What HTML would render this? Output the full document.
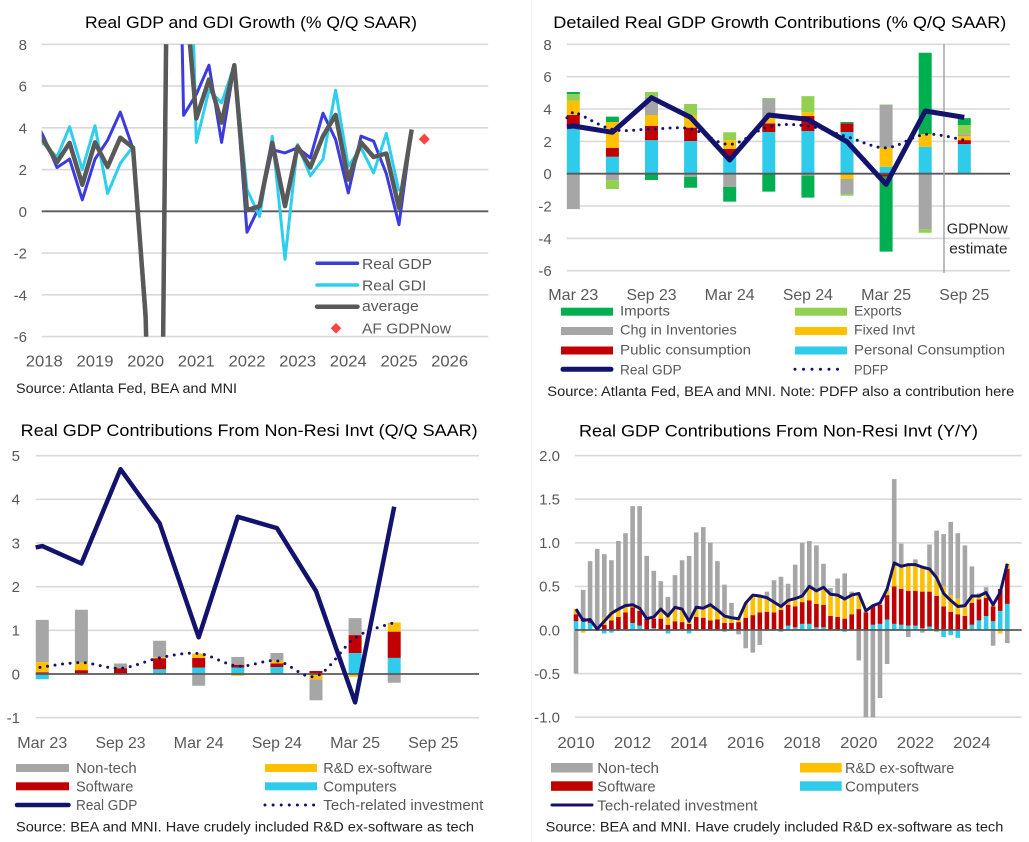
<!DOCTYPE html>
<html><head><meta charset="utf-8"><style>
html,body{margin:0;padding:0;background:#fff;}
svg{display:block;font-family:"Liberation Sans",Arial,sans-serif;}
.t{font-size:17px;fill:#000;}
.src{font-size:13.5px;fill:#222;}
.yl{font-size:15px;fill:#595959;text-anchor:end;}
.xl{font-size:16px;fill:#595959;text-anchor:middle;}
.lg{font-size:15px;fill:#595959;}
.lg2{font-size:14px;fill:#595959;}
.g{stroke:#d9d9d9;stroke-width:1.6;}
.z{stroke:#595959;stroke-width:1.8;}
</style></head><body>
<svg width="1029" height="842" viewBox="0 0 1029 842" xmlns="http://www.w3.org/2000/svg">
<rect width="1029" height="842" fill="#fff"/>
<line x1="531.5" y1="0" x2="531.5" y2="842" stroke="#f2f2f2" stroke-width="1"/>
<defs>
<clipPath id="c1"><rect x="41.7" y="44.3" width="450" height="292.3"/></clipPath>
</defs>

<!-- ============ TOP LEFT ============ -->
<text class="t" x="85" y="28" textLength="332" lengthAdjust="spacingAndGlyphs">Real GDP and GDI Growth (% Q/Q SAAR)</text>
<g>
<line class="g" x1="41.7" x2="488.3" y1="44.3" y2="44.3"/>
<line class="g" x1="41.7" x2="488.3" y1="86.05" y2="86.05"/>
<line class="g" x1="41.7" x2="488.3" y1="127.8" y2="127.8"/>
<line class="g" x1="41.7" x2="488.3" y1="169.55" y2="169.55"/>
<line class="g" x1="41.7" x2="488.3" y1="253.05" y2="253.05"/>
<line class="g" x1="41.7" x2="488.3" y1="294.8" y2="294.8"/>
<line class="g" x1="41.7" x2="488.3" y1="336.55" y2="336.55"/>
<line class="z" x1="41.7" x2="488.3" y1="211.3" y2="211.3"/>
</g>
<text class="yl" x="27" y="49.8">8</text>
<text class="yl" x="27" y="91.5">6</text>
<text class="yl" x="27" y="133.3">4</text>
<text class="yl" x="27" y="175">2</text>
<text class="yl" x="27" y="216.8">0</text>
<text class="yl" x="27" y="258.5">-2</text>
<text class="yl" x="27" y="300.3">-4</text>
<text class="yl" x="27" y="342">-6</text>
<text class="xl" x="44.3" y="366.5" textLength="37" lengthAdjust="spacingAndGlyphs">2018</text>
<text class="xl" x="95" y="366.5" textLength="37" lengthAdjust="spacingAndGlyphs">2019</text>
<text class="xl" x="145.6" y="366.5" textLength="37" lengthAdjust="spacingAndGlyphs">2020</text>
<text class="xl" x="196.3" y="366.5" textLength="37" lengthAdjust="spacingAndGlyphs">2021</text>
<text class="xl" x="247" y="366.5" textLength="37" lengthAdjust="spacingAndGlyphs">2022</text>
<text class="xl" x="297.6" y="366.5" textLength="37" lengthAdjust="spacingAndGlyphs">2023</text>
<text class="xl" x="348.3" y="366.5" textLength="37" lengthAdjust="spacingAndGlyphs">2024</text>
<text class="xl" x="399" y="366.5" textLength="37" lengthAdjust="spacingAndGlyphs">2025</text>
<text class="xl" x="449.6" y="366.5" textLength="37" lengthAdjust="spacingAndGlyphs">2026</text>
<g clip-path="url(#c1)" fill="none" stroke-linejoin="round">
<polyline stroke="#3b3be0" stroke-width="3" points="31.6,113.2 44.3,138.2 57.0,167.5 69.6,159.1 82.3,199.8 95.0,159.1 107.6,140.3 120.3,112.1 133.0,148.7 145.6,326.1 158.3,795.8 171.0,-515.2 183.6,115.3 196.3,94.4 209.0,65.2 221.6,142.4 234.3,65.2 247.0,232.2 259.6,206.1 272.3,149.7 285.0,152.9 297.6,147.8 310.3,157.9 323.0,113.2 335.6,139.5 348.3,192.9 361.0,136.2 373.6,141.2 386.3,173.7 399.0,224.7 411.7,129.9"/>
<polyline stroke="#2ecfee" stroke-width="3" points="31.6,136.2 44.3,144.5 57.0,157.0 69.6,126.8 82.3,169.6 95.0,125.7 107.6,193.6 120.3,163.3 133.0,146.6 145.6,305.2 158.3,837.6 171.0,-373.2 183.6,-331.5 196.3,142.4 209.0,90.2 221.6,102.8 234.3,65.2 247.0,189.6 259.6,216.5 272.3,136.2 285.0,259.3 297.6,144.5 310.3,175.8 323.0,159.1 335.6,90.2 348.3,166.4 361.0,147.8 373.6,172.9 386.3,133.4 399.0,191.3"/>
<polyline stroke="#595959" stroke-width="4.5" points="31.6,124.7 44.3,141.4 57.0,162.2 69.6,142.9 82.3,184.7 95.0,142.4 107.6,166.9 120.3,137.7 133.0,147.6 145.6,315.7 158.3,816.7 171.0,-444.2 183.6,-31 196.3,118.4 209.0,79.5 221.6,122.6 234.3,65.2 247.0,210.3 259.6,206.1 272.3,142.8 285.0,206.1 297.6,146.6 310.3,167.5 323.0,136.2 335.6,114.9 348.3,179.6 361.0,142.4 373.6,157.0 386.3,153.5 399.0,208.0 411.7,129.5"/>
</g>
<polygon points="424.3,133.6 429.8,139.1 424.3,144.6 418.8,139.1" fill="#ff4343"/>
<!-- legend TL -->
<line x1="317" x2="357.5" y1="263.3" y2="263.3" stroke="#3b3be0" stroke-width="3.5" stroke-linecap="round"/>
<line x1="317" x2="357.5" y1="285" y2="285" stroke="#2ecfee" stroke-width="3.5" stroke-linecap="round"/>
<line x1="317" x2="357.5" y1="306.7" y2="306.7" stroke="#595959" stroke-width="4.5" stroke-linecap="round"/>
<polygon points="336,323 341.3,328.3 336,333.6 330.7,328.3" fill="#ff4343"/>
<text class="lg" x="362" y="269" textLength="70" lengthAdjust="spacingAndGlyphs">Real GDP</text>
<text class="lg" x="362" y="290.7" textLength="64.3" lengthAdjust="spacingAndGlyphs">Real GDI</text>
<text class="lg" x="362" y="311" textLength="56.7" lengthAdjust="spacingAndGlyphs">average</text>
<text class="lg" x="362" y="333.6" textLength="89" lengthAdjust="spacingAndGlyphs">AF GDPNow</text>
<text class="src" x="16" y="393" textLength="221" lengthAdjust="spacingAndGlyphs">Source: Atlanta Fed, BEA and MNI</text>

<!-- ============ TOP RIGHT ============ -->
<text class="t" x="553.3" y="28" textLength="453" lengthAdjust="spacingAndGlyphs">Detailed Real GDP Growth Contributions (% Q/Q SAAR)</text>
<g>
<line class="g" x1="566.7" x2="1010" y1="44.3" y2="44.3"/>
<line class="g" x1="566.7" x2="1010" y1="76.7" y2="76.7"/>
<line class="g" x1="566.7" x2="1010" y1="109" y2="109"/>
<line class="g" x1="566.7" x2="1010" y1="141.4" y2="141.4"/>
<line class="g" x1="566.7" x2="1010" y1="206" y2="206"/>
<line class="g" x1="566.7" x2="1010" y1="238.4" y2="238.4"/>
<line class="g" x1="566.7" x2="1010" y1="270.7" y2="270.7"/>
</g>
<text class="yl" x="551.7" y="49.8">8</text>
<text class="yl" x="551.7" y="82.2">6</text>
<text class="yl" x="551.7" y="114.5">4</text>
<text class="yl" x="551.7" y="146.9">2</text>
<text class="yl" x="551.7" y="179.2">0</text>
<text class="yl" x="551.7" y="211.5">-2</text>
<text class="yl" x="551.7" y="243.9">-4</text>
<text class="yl" x="551.7" y="276.2">-6</text>
<g transform="translate(0,173.7) scale(1,-16.17)">
<path fill="#a6a6a6" d="M566.8 -2.19h13V0h-13Z M605.9 -.4h13V0h-13Z M645 3.63h13V4.76h-13Z M684.1 -.19h13V0h-13Z M723.2 -.82h13V0h-13Z M762.3 3.42h13V4.62h-13Z M801.4 -.12h13V0h-13Z M840.5 -1.26h13V-.33h-13Z M879.6 1.6h13V4.25h-13Z M918.7 -3.44h13V0h-13Z M957.8 2.33h13V2.45h-13Z"/>
<path fill="#2ecbea" d="M566.8 0h13V2.8h-13Z M605.9 0h13V1.05h-13Z M645 0h13V2.08h-13Z M684.1 0h13V2.02h-13Z M723.2 0h13V1.05h-13Z M762.3 0h13V2.58h-13Z M801.4 0h13V2.64h-13Z M840.5 0h13V2.58h-13Z M879.6 0h13V.43h-13Z M918.7 0h13V1.67h-13Z M957.8 0h13V1.84h-13Z"/>
<path fill="#c00000" d="M566.8 2.8h13V3.63h-13Z M605.9 1.05h13V1.6h-13Z M645 2.08h13V2.95h-13Z M684.1 2.02h13V2.85h-13Z M723.2 1.05h13V1.53h-13Z M762.3 2.58h13V3.11h-13Z M801.4 2.64h13V3.57h-13Z M840.5 2.58h13V3.11h-13Z M879.6 -.19h13V0h-13Z M957.8 1.84h13V2.08h-13Z"/>
<path fill="#ffc000" d="M566.8 3.63h13V4.5h-13Z M605.9 1.6h13V3.2h-13Z M645 2.95h13V3.63h-13Z M684.1 2.85h13V3.63h-13Z M723.2 1.53h13V2.08h-13Z M762.3 3.11h13V3.42h-13Z M801.4 3.57h13V3.8h-13Z M840.5 -.33h13V0h-13Z M879.6 .43h13V1.6h-13Z M918.7 1.67h13V2.45h-13Z M957.8 2.08h13V2.33h-13Z"/>
<path fill="#92d050" d="M566.8 4.5h13V4.93h-13Z M605.9 -.95h13V-.4h-13Z M645 4.76h13V5.05h-13Z M684.1 3.63h13V4.31h-13Z M723.2 2.08h13V2.56h-13Z M762.3 4.62h13V4.68h-13Z M801.4 3.8h13V4.8h-13Z M840.5 -1.36h13V-1.26h-13Z M879.6 4.25h13V4.28h-13Z M918.7 -3.65h13V-3.44h-13Z M957.8 2.45h13V3.01h-13Z"/>
<path fill="#00b050" d="M566.8 4.93h13V5.05h-13Z M605.9 3.2h13V3.53h-13Z M645 -.39h13V0h-13Z M684.1 -.87h13V-.19h-13Z M723.2 -1.73h13V-.82h-13Z M762.3 -1.11h13V0h-13Z M801.4 -1.48h13V-.12h-13Z M840.5 3.11h13V3.2h-13Z M879.6 -4.82h13V-.19h-13Z M918.7 2.45h13V7.48h-13Z M957.8 3.01h13V3.44h-13Z"/>
</g>
<line class="z" x1="566.7" x2="1010" y1="173.7" y2="173.7"/>
<line x1="944" x2="944" y1="44" y2="273" stroke="#a6a6a6" stroke-width="1.5"/>
<polyline fill="none" stroke="#13136e" stroke-width="5" stroke-linejoin="round" points="567,126.8 573.3,126.0 612.4,132.3 651.5,97.7 690.6,117.4 729.7,160.0 768.8,115.0 807.9,119.4 847.0,141.7 886.1,184.4 925.2,111.0 964.3,117.4"/>
<path fill="none" stroke="#13136e" stroke-width="3" stroke-linecap="round" stroke-dasharray="0 7.3" d="M567,117.8 L573.3,111.8 C580.9,113.7 599.4,126.5 612.4,129.4 C625.4,132.3 638.5,129.2 651.5,129.1 C664.5,129.0 677.6,126.25 690.6,128.8 C703.6,131.35 716.7,144.77 729.7,144.4 C742.7,144.03 755.8,129.67 768.8,126.6 C781.8,123.53 794.9,124.32 807.9,126.0 C820.9,127.68 834.0,133.07 847.0,136.7 C860.0,140.33 873.1,148.18 886.1,147.8 C899.1,147.42 912.2,135.68 925.2,134.4 C938.2,133.12 957.8,139.15 964.3,140.1"/>
<text x="946.7" y="233.3" font-size="15" fill="#262626" textLength="61" lengthAdjust="spacingAndGlyphs">GDPNow</text>
<text x="949.3" y="253.3" font-size="15" fill="#262626" textLength="58.3" lengthAdjust="spacingAndGlyphs">estimate</text>
<text class="xl" x="573.3" y="300" textLength="50" lengthAdjust="spacingAndGlyphs">Mar 23</text>
<text class="xl" x="651.5" y="300" textLength="50" lengthAdjust="spacingAndGlyphs">Sep 23</text>
<text class="xl" x="729.7" y="300" textLength="50" lengthAdjust="spacingAndGlyphs">Mar 24</text>
<text class="xl" x="807.9" y="300" textLength="50" lengthAdjust="spacingAndGlyphs">Sep 24</text>
<text class="xl" x="886.1" y="300" textLength="50" lengthAdjust="spacingAndGlyphs">Mar 25</text>
<text class="xl" x="964.3" y="300" textLength="50" lengthAdjust="spacingAndGlyphs">Sep 25</text>
<!-- legend TR -->
<rect x="561" y="307.7" width="52" height="8" fill="#00b050"/>
<rect x="561" y="327" width="52" height="8" fill="#a6a6a6"/>
<rect x="561" y="346.5" width="52" height="8" fill="#c00000"/>
<line x1="563" x2="611" y1="369.3" y2="369.3" stroke="#13136e" stroke-width="5" stroke-linecap="round"/>
<rect x="795" y="307.7" width="52" height="8" fill="#92d050"/>
<rect x="795" y="327" width="52" height="8" fill="#ffc000"/>
<rect x="795" y="346.5" width="52" height="8" fill="#2ecbea"/>
<line x1="795" x2="846" y1="369.3" y2="369.3" stroke="#13136e" stroke-width="3" stroke-linecap="round" stroke-dasharray="0 8.5"/>
<text class="lg2" x="620" y="315.5" textLength="50" lengthAdjust="spacingAndGlyphs">Imports</text>
<text class="lg2" x="620" y="334.5" textLength="116.7" lengthAdjust="spacingAndGlyphs">Chg in Inventories</text>
<text class="lg2" x="620" y="354.3" textLength="131" lengthAdjust="spacingAndGlyphs">Public consumption</text>
<text class="lg2" x="620" y="374.3" textLength="61.7" lengthAdjust="spacingAndGlyphs">Real GDP</text>
<text class="lg2" x="854" y="315.5" textLength="47.7" lengthAdjust="spacingAndGlyphs">Exports</text>
<text class="lg2" x="854" y="334.5" textLength="61" lengthAdjust="spacingAndGlyphs">Fixed Invt</text>
<text class="lg2" x="854" y="354.3" textLength="151" lengthAdjust="spacingAndGlyphs">Personal Consumption</text>
<text class="lg2" x="854" y="374.3" textLength="34.3" lengthAdjust="spacingAndGlyphs">PDFP</text>
<text class="src" x="547.3" y="396" textLength="467" lengthAdjust="spacingAndGlyphs">Source: Atlanta Fed, BEA and MNI. Note: PDFP also a contribution here</text>

<!-- ============ BOTTOM LEFT ============ -->
<text class="t" x="20.7" y="436" textLength="457" lengthAdjust="spacingAndGlyphs">Real GDP Contributions From Non-Resi Invt (Q/Q SAAR)</text>
<g>
<line class="g" x1="35.7" x2="479" y1="455.65" y2="455.65"/>
<line class="g" x1="35.7" x2="479" y1="499.3" y2="499.3"/>
<line class="g" x1="35.7" x2="479" y1="543" y2="543"/>
<line class="g" x1="35.7" x2="479" y1="586.7" y2="586.7"/>
<line class="g" x1="35.7" x2="479" y1="630.3" y2="630.3"/>
<line class="g" x1="35.7" x2="479" y1="717.7" y2="717.7"/>
</g>
<text class="yl" x="20" y="461">5</text>
<text class="yl" x="20" y="504.6">4</text>
<text class="yl" x="20" y="548.3">3</text>
<text class="yl" x="20" y="592">2</text>
<text class="yl" x="20" y="635.6">1</text>
<text class="yl" x="20" y="679.3">0</text>
<text class="yl" x="20" y="723">-1</text>
<g transform="translate(0,674) scale(1,-43.67)">
<path fill="#a6a6a6" d="M35.8 .27h13V1.24h-13Z M74.9 .26h13V1.47h-13Z M114 .13h13V.24h-13Z M153.1 .38h13V.76h-13Z M192.2 -.27h13V0h-13Z M231.3 .21h13V.39h-13Z M270.4 .3h13V.48h-13Z M309.5 -.6h13V-.12h-13Z M348.6 .89h13V1.28h-13Z M387.7 -.2h13V0h-13Z"/>
<path fill="#2ecbea" d="M35.8 -.12h13V0h-13Z M153.1 0h13V.11h-13Z M192.2 0h13V.15h-13Z M231.3 0h13V.15h-13Z M270.4 0h13V.16h-13Z M348.6 0h13V.48h-13Z M387.7 0h13V.37h-13Z"/>
<path fill="#c00000" d="M35.8 0h13V.04h-13Z M74.9 0h13V.09h-13Z M114 0h13V.13h-13Z M153.1 .11h13V.36h-13Z M192.2 .15h13V.37h-13Z M231.3 .15h13V.21h-13Z M270.4 .16h13V.24h-13Z M309.5 0h13V.07h-13Z M348.6 .48h13V.89h-13Z M387.7 .37h13V.97h-13Z"/>
<path fill="#ffc000" d="M35.8 .04h13V.27h-13Z M74.9 .09h13V.26h-13Z M153.1 .36h13V.38h-13Z M192.2 .37h13V.47h-13Z M231.3 -.04h13V0h-13Z M270.4 .24h13V.3h-13Z M309.5 -.12h13V0h-13Z M348.6 -.06h13V0h-13Z M387.7 .97h13V1.18h-13Z"/>
</g>
<line class="z" x1="35.7" x2="479" y1="674" y2="674"/>
<polyline fill="none" stroke="#13136e" stroke-width="4.5" stroke-linejoin="round" points="35.7,547.4 42.3,546.1 81.4,563.5 120.5,469.2 159.6,523.3 198.7,637.3 237.8,516.8 276.9,528.1 316.0,591.0 355.1,702.4 394.2,506.7"/>
<path fill="none" stroke="#13136e" stroke-width="3" stroke-linecap="round" stroke-dasharray="0 7.6" d="M40,667.4 C46.9,666.6 68.0,662.45 81.4,662.6 C94.8,662.75 107.5,669.1 120.5,668.3 C133.5,667.5 146.6,660.27 159.6,657.8 C172.6,655.33 185.7,652.12 198.7,653.5 C211.7,654.88 224.8,664.87 237.8,666.1 C250.8,667.33 263.9,659.22 276.9,660.9 C289.9,662.58 303.0,680.05 316.0,676.2 C329.0,672.35 342.1,646.75 355.1,637.8 C368.1,628.85 387.7,625.05 394.2,622.5"/>
<text class="xl" x="42.3" y="748" textLength="50" lengthAdjust="spacingAndGlyphs">Mar 23</text>
<text class="xl" x="120.5" y="748" textLength="50" lengthAdjust="spacingAndGlyphs">Sep 23</text>
<text class="xl" x="198.7" y="748" textLength="50" lengthAdjust="spacingAndGlyphs">Mar 24</text>
<text class="xl" x="276.9" y="748" textLength="50" lengthAdjust="spacingAndGlyphs">Sep 24</text>
<text class="xl" x="355.1" y="748" textLength="50" lengthAdjust="spacingAndGlyphs">Mar 25</text>
<text class="xl" x="433.3" y="748" textLength="50" lengthAdjust="spacingAndGlyphs">Sep 25</text>
<!-- legend BL -->
<rect x="16" y="764" width="53" height="8" fill="#a6a6a6"/>
<rect x="16" y="782.3" width="53" height="8" fill="#c00000"/>
<line x1="17" x2="68.5" y1="805" y2="805" stroke="#13136e" stroke-width="4.5" stroke-linecap="round"/>
<rect x="265" y="764" width="52" height="8" fill="#ffc000"/>
<rect x="265" y="782.3" width="52" height="8" fill="#2ecbea"/>
<line x1="265" x2="314" y1="805" y2="805" stroke="#13136e" stroke-width="3" stroke-linecap="round" stroke-dasharray="0 8.1"/>
<text class="lg" x="76" y="773" textLength="60.7" lengthAdjust="spacingAndGlyphs">Non-tech</text>
<text class="lg" x="76" y="791.5" textLength="57.3" lengthAdjust="spacingAndGlyphs">Software</text>
<text class="lg" x="76" y="810" textLength="61.3" lengthAdjust="spacingAndGlyphs">Real GDP</text>
<text class="lg" x="323.3" y="773" textLength="109" lengthAdjust="spacingAndGlyphs">R&amp;D ex-software</text>
<text class="lg" x="323.3" y="791.5" textLength="73.3" lengthAdjust="spacingAndGlyphs">Computers</text>
<text class="lg" x="323.3" y="810" textLength="160" lengthAdjust="spacingAndGlyphs">Tech-related investment</text>
<text class="src" x="16" y="831.5" textLength="458" lengthAdjust="spacingAndGlyphs">Source: BEA and MNI. Have crudely included R&amp;D ex-software as tech</text>

<!-- ============ BOTTOM RIGHT ============ -->
<text class="t" x="579" y="436.5" textLength="399" lengthAdjust="spacingAndGlyphs">Real GDP Contributions From Non-Resi Invt (Y/Y)</text>
<g>
<line class="g" x1="575" x2="1021.7" y1="455.6" y2="455.6"/>
<line class="g" x1="575" x2="1021.7" y1="499.2" y2="499.2"/>
<line class="g" x1="575" x2="1021.7" y1="542.8" y2="542.8"/>
<line class="g" x1="575" x2="1021.7" y1="586.4" y2="586.4"/>
<line class="g" x1="575" x2="1021.7" y1="673.6" y2="673.6"/>
<line class="g" x1="575" x2="1021.7" y1="717.2" y2="717.2"/>
</g>
<text class="yl" x="560" y="460.9">2.0</text>
<text class="yl" x="560" y="504.5">1.5</text>
<text class="yl" x="560" y="548.1">1.0</text>
<text class="yl" x="560" y="591.7">0.5</text>
<text class="yl" x="560" y="635.3">0.0</text>
<text class="yl" x="560" y="678.9">-0.5</text>
<text class="yl" x="560" y="722.5">-1.0</text>
<g transform="translate(0,630) scale(1,-87.2)">
<path fill="#a6a6a6" d="M573.7 -.50h4.6V0h-4.6Z M580.8 .14h4.6V.46h-4.6Z M587.8 .12h4.6V.79h-4.6Z M594.9 .01h4.6V.93h-4.6Z M602.0 .14h4.6V.87h-4.6Z M609.1 .22h4.6V.80h-4.6Z M616.1 .24h4.6V1.02h-4.6Z M623.2 .28h4.6V1.11h-4.6Z M630.3 .29h4.6V1.42h-4.6Z M637.3 .25h4.6V1.42h-4.6Z M644.4 .13h4.6V.85h-4.6Z M651.5 .15h4.6V.68h-4.6Z M658.5 .24h4.6V.56h-4.6Z M665.6 .20h4.6V.38h-4.6Z M672.7 .26h4.6V.63h-4.6Z M679.8 .24h4.6V.80h-4.6Z M686.8 .14h4.6V.85h-4.6Z M693.9 .26h4.6V1.12h-4.6Z M701.0 .25h4.6V1.18h-4.6Z M708.0 .29h4.6V1.00h-4.6Z M715.1 .23h4.6V.79h-4.6Z M722.2 .18h4.6V.52h-4.6Z M729.2 .14h4.6V.31h-4.6Z M736.3 -.05h4.6V0h-4.6Z M743.4 -.21h4.6V0h-4.6Z M750.5 -.26h4.6V0h-4.6Z M757.5 -.17h4.6V0h-4.6Z M764.6 .37h4.6V.44h-4.6Z M771.7 .32h4.6V.57h-4.6Z M778.7 .29h4.6V.61h-4.6Z M785.8 .34h4.6V.53h-4.6Z M792.9 .36h4.6V.75h-4.6Z M799.9 .39h4.6V1.00h-4.6Z M807.0 .50h4.6V1.02h-4.6Z M814.1 .45h4.6V.97h-4.6Z M821.2 .49h4.6V.76h-4.6Z M828.2 .41h4.6V.48h-4.6Z M835.3 .40h4.6V.59h-4.6Z M842.4 .375h4.6V.65h-4.6Z M849.4 .40h4.6V.44h-4.6Z M856.5 -.35h4.6V0h-4.6Z M863.6 -1h4.6V0h-4.6Z M870.6 -1h4.6V0h-4.6Z M877.7 -.78h4.6V0h-4.6Z M884.8 -.39h4.6V0h-4.6Z M891.9 .77h4.6V1.73h-4.6Z M898.9 .73h4.6V.99h-4.6Z M906.0 -.08h4.6V0h-4.6Z M913.1 .75h4.6V.81h-4.6Z M920.1 -.03h4.6V0h-4.6Z M927.2 .70h4.6V.98h-4.6Z M934.3 .62h4.6V1.14h-4.6Z M941.3 .50h4.6V1.10h-4.6Z M948.4 .40h4.6V1.24h-4.6Z M955.5 .36h4.6V1.11h-4.6Z M962.6 .28h4.6V.97h-4.6Z M969.6 .39h4.6V.73h-4.6Z M976.7 .39h4.6V.42h-4.6Z M983.8 .43h4.6V.49h-4.6Z M990.8 -.18h4.6V0h-4.6Z M1005.0 -.15h4.6V0h-4.6Z"/>
<path fill="#2ecbea" d="M573.7 0h4.6V.10h-4.6Z M580.8 0h4.6V.10h-4.6Z M587.8 0h4.6V.08h-4.6Z M602.0 -.04h4.6V0h-4.6Z M609.1 -.03h4.6V0h-4.6Z M623.2 0h4.6V.01h-4.6Z M630.3 0h4.6V.08h-4.6Z M637.3 0h4.6V.05h-4.6Z M651.5 0h4.6V.02h-4.6Z M665.6 -.04h4.6V0h-4.6Z M686.8 -.04h4.6V0h-4.6Z M722.2 -.02h4.6V0h-4.6Z M778.7 -.02h4.6V0h-4.6Z M785.8 0h4.6V.05h-4.6Z M792.9 0h4.6V.03h-4.6Z M799.9 0h4.6V.07h-4.6Z M807.0 0h4.6V.07h-4.6Z M814.1 0h4.6V.03h-4.6Z M821.2 0h4.6V.03h-4.6Z M842.4 -.02h4.6V0h-4.6Z M870.6 0h4.6V.06h-4.6Z M877.7 0h4.6V.07h-4.6Z M884.8 0h4.6V.12h-4.6Z M891.9 0h4.6V.07h-4.6Z M898.9 0h4.6V.06h-4.6Z M906.0 0h4.6V.05h-4.6Z M913.1 0h4.6V.05h-4.6Z M920.1 0h4.6V.02h-4.6Z M927.2 0h4.6V.04h-4.6Z M934.3 -.02h4.6V0h-4.6Z M941.3 -.08h4.6V0h-4.6Z M948.4 -.06h4.6V0h-4.6Z M955.5 -.09h4.6V0h-4.6Z M969.6 0h4.6V.06h-4.6Z M976.7 0h4.6V.11h-4.6Z M983.8 0h4.6V.16h-4.6Z M990.8 0h4.6V.10h-4.6Z M997.9 0h4.6V.22h-4.6Z M1005.0 0h4.6V.30h-4.6Z"/>
<path fill="#c00000" d="M573.7 .10h4.6V.18h-4.6Z M580.8 .10h4.6V.14h-4.6Z M587.8 .08h4.6V.12h-4.6Z M594.9 0h4.6V.01h-4.6Z M602.0 0h4.6V.06h-4.6Z M609.1 0h4.6V.11h-4.6Z M616.1 0h4.6V.15h-4.6Z M623.2 .01h4.6V.20h-4.6Z M630.3 .08h4.6V.26h-4.6Z M637.3 .05h4.6V.22h-4.6Z M644.4 0h4.6V.13h-4.6Z M651.5 .02h4.6V.13h-4.6Z M658.5 0h4.6V.13h-4.6Z M665.6 0h4.6V.06h-4.6Z M672.7 0h4.6V.10h-4.6Z M679.8 0h4.6V.09h-4.6Z M686.8 0h4.6V.07h-4.6Z M693.9 0h4.6V.15h-4.6Z M701.0 0h4.6V.14h-4.6Z M708.0 0h4.6V.11h-4.6Z M715.1 0h4.6V.12h-4.6Z M722.2 0h4.6V.08h-4.6Z M729.2 0h4.6V.08h-4.6Z M736.3 0h4.6V.09h-4.6Z M743.4 0h4.6V.14h-4.6Z M750.5 0h4.6V.17h-4.6Z M757.5 0h4.6V.20h-4.6Z M764.6 0h4.6V.21h-4.6Z M771.7 0h4.6V.20h-4.6Z M778.7 0h4.6V.23h-4.6Z M785.8 .05h4.6V.29h-4.6Z M792.9 .03h4.6V.27h-4.6Z M799.9 .07h4.6V.32h-4.6Z M807.0 .07h4.6V.34h-4.6Z M814.1 .03h4.6V.30h-4.6Z M821.2 .03h4.6V.29h-4.6Z M828.2 0h4.6V.16h-4.6Z M835.3 0h4.6V.15h-4.6Z M842.4 0h4.6V.13h-4.6Z M849.4 0h4.6V.18h-4.6Z M856.5 0h4.6V.24h-4.6Z M863.6 0h4.6V.20h-4.6Z M870.6 .06h4.6V.27h-4.6Z M877.7 .07h4.6V.29h-4.6Z M884.8 .12h4.6V.40h-4.6Z M891.9 .07h4.6V.50h-4.6Z M898.9 .06h4.6V.47h-4.6Z M906.0 .05h4.6V.45h-4.6Z M913.1 .05h4.6V.45h-4.6Z M920.1 .02h4.6V.44h-4.6Z M927.2 .04h4.6V.44h-4.6Z M934.3 0h4.6V.39h-4.6Z M941.3 0h4.6V.27h-4.6Z M948.4 0h4.6V.21h-4.6Z M955.5 0h4.6V.18h-4.6Z M962.6 0h4.6V.16h-4.6Z M969.6 .06h4.6V.31h-4.6Z M976.7 .11h4.6V.35h-4.6Z M983.8 .16h4.6V.37h-4.6Z M990.8 .10h4.6V.27h-4.6Z M997.9 .22h4.6V.47h-4.6Z M1005.0 .30h4.6V.70h-4.6Z"/>
<path fill="#ffc000" d="M573.7 .18h4.6V.24h-4.6Z M580.8 -.03h4.6V0h-4.6Z M602.0 .06h4.6V.14h-4.6Z M609.1 .11h4.6V.22h-4.6Z M616.1 .15h4.6V.24h-4.6Z M623.2 .20h4.6V.28h-4.6Z M630.3 .26h4.6V.29h-4.6Z M637.3 .22h4.6V.25h-4.6Z M651.5 .13h4.6V.15h-4.6Z M658.5 .13h4.6V.24h-4.6Z M665.6 .06h4.6V.20h-4.6Z M672.7 .10h4.6V.26h-4.6Z M679.8 .09h4.6V.24h-4.6Z M686.8 .07h4.6V.14h-4.6Z M693.9 .15h4.6V.26h-4.6Z M701.0 .14h4.6V.25h-4.6Z M708.0 .11h4.6V.29h-4.6Z M715.1 .12h4.6V.23h-4.6Z M722.2 .08h4.6V.18h-4.6Z M729.2 .08h4.6V.14h-4.6Z M736.3 .09h4.6V.13h-4.6Z M743.4 .14h4.6V.31h-4.6Z M750.5 .17h4.6V.40h-4.6Z M757.5 .20h4.6V.39h-4.6Z M764.6 .21h4.6V.37h-4.6Z M771.7 .20h4.6V.32h-4.6Z M778.7 .23h4.6V.29h-4.6Z M785.8 .29h4.6V.34h-4.6Z M792.9 .27h4.6V.36h-4.6Z M799.9 .32h4.6V.39h-4.6Z M807.0 .34h4.6V.50h-4.6Z M814.1 .30h4.6V.45h-4.6Z M821.2 .29h4.6V.49h-4.6Z M828.2 .16h4.6V.41h-4.6Z M835.3 .15h4.6V.40h-4.6Z M842.4 .13h4.6V.375h-4.6Z M849.4 .18h4.6V.40h-4.6Z M856.5 .24h4.6V.42h-4.6Z M863.6 .20h4.6V.22h-4.6Z M870.6 .27h4.6V.28h-4.6Z M877.7 .29h4.6V.31h-4.6Z M884.8 .40h4.6V.47h-4.6Z M891.9 .50h4.6V.77h-4.6Z M898.9 .47h4.6V.73h-4.6Z M906.0 .45h4.6V.75h-4.6Z M913.1 .45h4.6V.75h-4.6Z M920.1 .44h4.6V.72h-4.6Z M927.2 .44h4.6V.70h-4.6Z M934.3 .39h4.6V.62h-4.6Z M941.3 .27h4.6V.50h-4.6Z M948.4 .21h4.6V.40h-4.6Z M955.5 .18h4.6V.36h-4.6Z M962.6 .16h4.6V.28h-4.6Z M969.6 .31h4.6V.39h-4.6Z M976.7 .35h4.6V.39h-4.6Z M983.8 .37h4.6V.43h-4.6Z M990.8 .27h4.6V.29h-4.6Z M997.9 -.04h4.6V0h-4.6Z M1005.0 .70h4.6V.76h-4.6Z"/>
</g>
<line class="z" x1="575" x2="1021.7" y1="630" y2="630"/>
<polyline fill="none" stroke="#13136e" stroke-width="3" stroke-linejoin="round" points="576.0,609.1 583.1,620.4 590.1,619.5 597.2,629.1 604.3,621.3 611.4,613.4 618.4,609.1 625.5,605.6 632.6,604.7 639.6,608.2 646.7,618.7 653.8,616.9 660.8,609.1 667.9,616.0 675.0,607.3 682.1,609.1 689.1,621.3 696.2,607.3 703.3,608.2 710.3,604.7 717.4,609.9 724.5,616.0 731.5,617.8 738.6,618.7 745.7,603.0 752.8,595.1 759.8,596.0 766.9,597.7 774.0,602.1 781.0,606.5 788.1,600.4 795.2,598.6 802.2,596.0 809.3,586.4 816.4,590.8 823.5,587.3 830.5,594.3 837.6,595.1 844.7,599.0 851.7,595.1 858.8,593.4 865.9,610.8 872.9,605.6 880.0,603.0 887.1,589.0 894.2,562.9 901.2,566.3 908.3,564.6 915.4,564.6 922.4,567.2 929.5,569.0 936.6,577.7 943.6,593.4 950.7,600.4 957.8,606.5 964.9,605.6 971.9,596.0 979.0,596.0 986.1,592.5 993.1,604.7 1000.2,592.5 1007.3,563.7"/>
<text class="xl" x="576" y="748" textLength="37.3" lengthAdjust="spacingAndGlyphs">2010</text>
<text class="xl" x="632.6" y="748" textLength="37.3" lengthAdjust="spacingAndGlyphs">2012</text>
<text class="xl" x="689.1" y="748" textLength="37.3" lengthAdjust="spacingAndGlyphs">2014</text>
<text class="xl" x="745.7" y="748" textLength="37.3" lengthAdjust="spacingAndGlyphs">2016</text>
<text class="xl" x="802.2" y="748" textLength="37.3" lengthAdjust="spacingAndGlyphs">2018</text>
<text class="xl" x="858.8" y="748" textLength="37.3" lengthAdjust="spacingAndGlyphs">2020</text>
<text class="xl" x="915.4" y="748" textLength="37.3" lengthAdjust="spacingAndGlyphs">2022</text>
<text class="xl" x="971.9" y="748" textLength="37.3" lengthAdjust="spacingAndGlyphs">2024</text>
<!-- legend BR -->
<rect x="551" y="763" width="41.7" height="9.5" fill="#a6a6a6"/>
<rect x="551" y="781.3" width="41.7" height="9.5" fill="#c00000"/>
<line x1="552" x2="592" y1="805" y2="805" stroke="#13136e" stroke-width="3" stroke-linecap="round"/>
<rect x="800" y="763" width="41.7" height="9.5" fill="#ffc000"/>
<rect x="800" y="781.3" width="41.7" height="9.5" fill="#2ecbea"/>
<text class="lg" x="597.3" y="773" textLength="61.7" lengthAdjust="spacingAndGlyphs">Non-tech</text>
<text class="lg" x="597.3" y="791.5" textLength="58.3" lengthAdjust="spacingAndGlyphs">Software</text>
<text class="lg" x="597.3" y="810.5" textLength="160.3" lengthAdjust="spacingAndGlyphs">Tech-related investment</text>
<text class="lg" x="845" y="773" textLength="109.3" lengthAdjust="spacingAndGlyphs">R&amp;D ex-software</text>
<text class="lg" x="845" y="791.5" textLength="74" lengthAdjust="spacingAndGlyphs">Computers</text>
<text class="src" x="545.7" y="831.5" textLength="457.6" lengthAdjust="spacingAndGlyphs">Source: BEA and MNI. Have crudely included R&amp;D ex-software as tech</text>
</svg>
</body></html>
